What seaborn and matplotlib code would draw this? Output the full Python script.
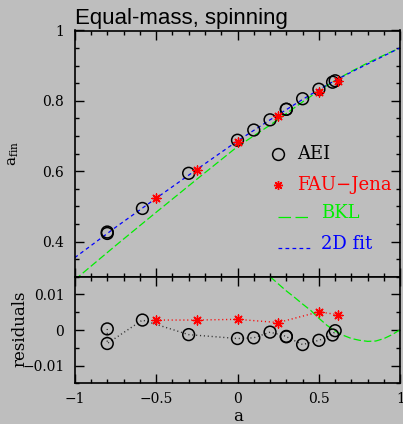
import matplotlib
matplotlib.use("Agg")
import matplotlib.pyplot as plt
import seaborn as sns
import pandas as pd
from matplotlib.ticker import MultipleLocator, FixedLocator
from matplotlib.lines import Line2D

# ---------------- data ----------------
a_aei = [-0.8, -0.8, -0.584, -0.3, 0.0, 0.1, 0.2, 0.3, 0.3, 0.4, 0.5, 0.584, 0.6]
afin_aei = [0.423, 0.427, 0.494, 0.594, 0.688, 0.717, 0.746, 0.776, 0.776, 0.806, 0.833, 0.853, 0.857]
res_aei = [0.0003, -0.0038, 0.0028, -0.0013, -0.0024, -0.0022, -0.0006, -0.0018, -0.0019,
           -0.0041, -0.0029, -0.0014, -0.0002]

a_fau = [-0.5, -0.25, 0.0, 0.25, 0.5, 0.62]
afin_fau = [0.523, 0.604, 0.684, 0.757, 0.826, 0.855]
res_fau = [0.0028, 0.0028, 0.0030, 0.0021, 0.0051, 0.0043]

a_curve = [-1.0, -0.75, -0.5, -0.25, 0.0, 0.2, 0.3, 0.4, 0.5, 0.6, 0.7, 0.8, 0.9, 1.0]
fit_2d = [0.354, 0.440, 0.523, 0.605, 0.686, 0.746, 0.775, 0.804, 0.832, 0.858, 0.882, 0.905, 0.928, 0.951]
bkl = [0.291, 0.388, 0.483, 0.577, 0.670, 0.731, 0.764, 0.797, 0.829, 0.858, 0.884, 0.908, 0.930, 0.951]

a_bkl_res = [0.2, 0.3, 0.35, 0.4, 0.45, 0.5, 0.55, 0.6, 0.65, 0.7, 0.75, 0.8, 0.85, 0.9, 0.95, 1.0]
bkl_res = [0.0150, 0.0110, 0.0092, 0.0073, 0.0055, 0.0033, 0.0013, -0.0003, -0.0015, -0.0024,
           -0.0029, -0.0032, -0.0031, -0.0024, -0.0013, 0.0001]

x_ticks = [-1, -0.5, 0, 0.5, 1]
x_ticklabels = ["\u22121", "\u22120.5", "0", "0.5", "1"]
y_top_ticks = [0.4, 0.6, 0.8, 1.0]
y_top_ticklabels = ["0.4", "0.6", "0.8", "1"]
y_bot_ticks = [-0.01, 0, 0.01]
y_bot_ticklabels = ["\u22120.01", "0", "0.01"]

legend_labels = ["AEI", "FAU\u2212Jena", "BKL", "2D fit"]

# ---------------- style ----------------
BG = "#bebebe"
sns.set_style("ticks", {"axes.facecolor": BG, "figure.facecolor": BG})
plt.rcParams["font.family"] = ["DejaVu Serif"]
plt.rcParams["mathtext.fontset"] = "dejavuserif"

fig = plt.figure(figsize=(4.03, 4.24), dpi=100)
fig.patch.set_facecolor(BG)

W, H = 403.0, 424.0
left, right = 74.7, 400.3
top, mid, bottom = 30.5, 276.7, 383.3
ax1 = fig.add_axes([left / W, 1 - mid / H, (right - left) / W, (mid - top) / H])
ax2 = fig.add_axes([left / W, 1 - bottom / H, (right - left) / W, (bottom - mid) / H], sharex=ax1)

df_aei = pd.DataFrame({"a": a_aei, "afin": afin_aei, "res": res_aei})
df_fau = pd.DataFrame({"a": a_fau, "afin": afin_fau, "res": res_fau})
df_curve = pd.DataFrame({"a": a_curve, "fit": fit_2d, "bkl": bkl})
df_bres = pd.DataFrame({"a": a_bkl_res, "res": bkl_res})

LW = 0.9
STAR = (8, 2, 0)
# top panel curves
sns.lineplot(data=df_curve, x="a", y="bkl", ax=ax1, color="#00ee00", lw=LW,
             estimator=None, sort=False, linestyle=(0, (6.0, 2.4)))
sns.lineplot(data=df_curve, x="a", y="fit", ax=ax1, color="#0000ff", lw=LW,
             estimator=None, sort=False, linestyle=(0, (3.0, 2.6)))
# top panel points
sns.scatterplot(data=df_aei, x="a", y="afin", ax=ax1, marker="o", s=72,
                facecolor="none", edgecolor="black", linewidth=1.1, zorder=5)
sns.scatterplot(data=df_fau, x="a", y="afin", ax=ax1, marker=STAR, s=42,
                color="red", edgecolor="red", linewidth=1.0, zorder=6)

# bottom panel
sns.lineplot(data=df_bres, x="a", y="res", ax=ax2, color="#00ee00", lw=LW,
             estimator=None, sort=False, linestyle=(0, (6.0, 2.4)))
sns.lineplot(data=df_aei, x="a", y="res", ax=ax2, color="#333333", lw=1.0,
             estimator=None, sort=False, linestyle=(0, (0.8, 2.0)))
sns.lineplot(data=df_fau, x="a", y="res", ax=ax2, color="red", lw=1.0,
             estimator=None, sort=False, linestyle=(0, (0.8, 2.0)))
sns.scatterplot(data=df_aei, x="a", y="res", ax=ax2, marker="o", s=72,
                facecolor="none", edgecolor="black", linewidth=1.1, zorder=5)
sns.scatterplot(data=df_fau, x="a", y="res", ax=ax2, marker=STAR, s=42,
                color="red", edgecolor="red", linewidth=1.0, zorder=6)

# axes formatting
for ax in (ax1, ax2):
    ax.set_facecolor(BG)
    ax.set_xlim(-1, 1)
    ax.xaxis.set_major_locator(FixedLocator(x_ticks))
    ax.xaxis.set_minor_locator(MultipleLocator(0.1))
    ax.tick_params(which="both", direction="in", top=True, right=True,
                   bottom=True, left=True, color="black", width=1.0,
                   labelsize=10, pad=7.5, labelcolor="black")
    ax.tick_params(which="major", length=6.5)
    ax.tick_params(which="minor", length=3.2)
    for sp in ax.spines.values():
        sp.set_visible(True)
        sp.set_linewidth(1.2)
        sp.set_color("black")
    ax.set_xlabel("")
    ax.set_ylabel("")

ax1.set_ylim(0.3, 1.0)
ax1.yaxis.set_major_locator(FixedLocator(y_top_ticks))
ax1.set_yticklabels(y_top_ticklabels)
ax1.yaxis.set_minor_locator(MultipleLocator(0.05))
ax1.tick_params(axis="x", labelbottom=False)

ax2.set_ylim(-0.015, 0.015)
ax2.yaxis.set_major_locator(FixedLocator(y_bot_ticks))
ax2.set_yticklabels(y_bot_ticklabels)
ax2.yaxis.set_minor_locator(MultipleLocator(0.005))
ax2.set_xticks(x_ticks)
ax2.set_xticklabels(x_ticklabels)
ax2.tick_params(axis="x", pad=6.5)

ax1.set_title("Equal-mass, spinning", loc="left", pad=5, fontsize=16,
              family="Liberation Sans", color="black")

# axis labels
fig.text(14 / W, 1 - 153 / H, r"a$_{\rm fin}$", rotation=90, ha="center", va="center",
         fontsize=11, color="black")
fig.text(20 / W, 1 - 329 / H, "residuals", rotation=90, ha="center", va="center",
         fontsize=12, color="black")
fig.text(238.3 / W, 1 - 416.5 / H, "a", ha="center", va="center", fontsize=12, color="black")

# legend (manual, in axes fraction of ax1)
def fx(px):
    return (px - left) / (right - left)

def fy(py):
    return 1 - (py - top) / (mid - top)

ax1.add_line(Line2D([fx(278.3)], [fy(154)], marker="o", markersize=8.5, mfc="none",
                    mec="black", mew=1.1, transform=ax1.transAxes, clip_on=False))
ax1.text(fx(296.7), fy(159.3), legend_labels[0], transform=ax1.transAxes, ha="left",
         va="baseline", fontsize=13, color="black")
ax1.add_line(Line2D([fx(278.3)], [fy(185)], marker=STAR, markersize=6.5, color="red",
                    mew=1.0, transform=ax1.transAxes, clip_on=False))
ax1.text(fx(296.7), fy(190), legend_labels[1], transform=ax1.transAxes, ha="left",
         va="baseline", fontsize=13, color="red")
ax1.add_line(Line2D([fx(278.3), fx(310.3)], [fy(217.3), fy(217.3)], color="#00ee00", lw=LW,
                    linestyle=(0, (10.0, 3.6)), transform=ax1.transAxes))
ax1.text(fx(321), fy(218.3), legend_labels[2], transform=ax1.transAxes, ha="left",
         va="baseline", fontsize=13, color="#00ee00")
ax1.add_line(Line2D([fx(278.3), fx(310.3)], [fy(248.3), fy(248.3)], color="#0000ff", lw=LW,
                    linestyle=(0, (3.0, 2.6)), transform=ax1.transAxes))
ax1.text(fx(321), fy(249.3), legend_labels[3], transform=ax1.transAxes, ha="left",
         va="baseline", fontsize=13, color="#0000ff")

fig.savefig("out.png", dpi=100, facecolor=BG)
